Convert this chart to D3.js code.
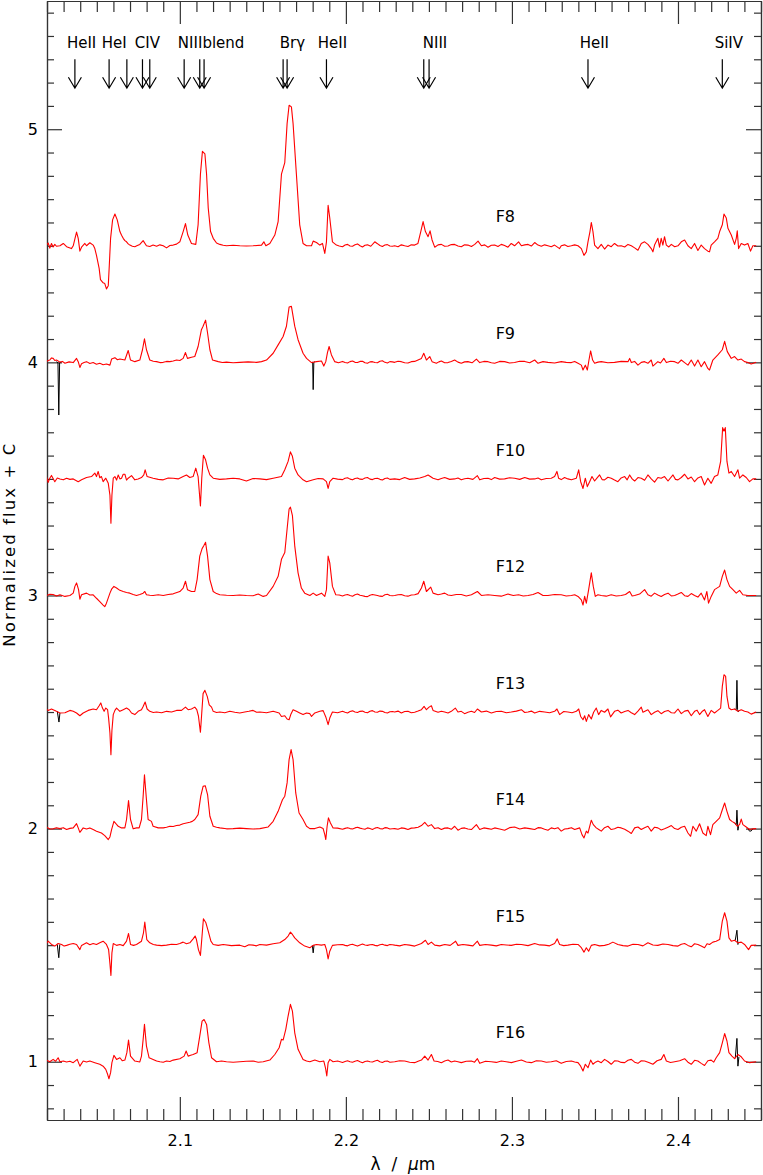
<!DOCTYPE html>
<meta charset="utf-8">
<script src="https://d3js.org/d3.v7.min.js"></script>
<style>
  body { margin: 0; background: #fff; }
  text { font-family: "DejaVu Sans", sans-serif; fill: #000; }
</style>
<div id="chart"></div>
<script>

// spectra: [wavelength (micron), normalized flux]
var F8 = [[2.0197,1.003],[2.0207,1.012],[2.0217,0.990],[2.0227,1.010],[2.0237,0.995],[2.0247,1.006],[2.0257,0.998],[2.0278,1.000],[2.0298,1.010],[2.0318,0.996],[2.0347,0.988],[2.0358,1.000],
  [2.0368,1.030],[2.0378,1.059],[2.0388,1.032],[2.0398,0.977],[2.0408,0.994],[2.0428,1.010],[2.0438,1.000],[2.0458,1.013],[2.0478,1.003],[2.0488,0.988],
  [2.0498,0.959],[2.0514,0.903],[2.0522,0.855],[2.0538,0.841],[2.0548,0.838],[2.0558,0.815],[2.0569,0.829],[2.0575,0.913],[2.0583,1.032],[2.0595,1.111],[2.0609,1.136],[2.0623,1.111],[2.0639,1.061],[2.0649,1.045],[2.0659,1.032],[2.0669,1.022],[2.0679,1.017],[2.0689,1.008],[2.0699,1.003],[2.0714,0.998],[2.0729,0.996],[2.0744,1.001],[2.0759,1.006],[2.0779,1.022],[2.0799,1.000],[2.0819,0.997],[2.0839,1.003],[2.0860,0.998],[2.0880,1.004],[2.0900,1.000],[2.0920,0.991],[2.0940,1.001],[2.0960,1.003],[2.0980,1.007],[2.1000,1.017],[2.1020,1.061],[2.1034,1.095],[2.1048,1.046],[2.1070,1.010],[2.1096,1.006],
  [2.1110,1.090],[2.1124,1.307],[2.1136,1.405],[2.1151,1.394],[2.1161,1.307],[2.1171,1.162],[2.1185,1.061],[2.1201,1.032],[2.1221,1.012],[2.1241,1.006],[2.1261,1.002],[2.1281,1.000],[2.1321,1.002],[2.1361,1.000],[2.1401,0.999],[2.1441,1.000],[2.1492,1.003],[2.1506,1.017],[2.1518,1.000],[2.1542,1.010],[2.1572,1.046],[2.1592,1.104],[2.1612,1.307],[2.1632,1.357],[2.1646,1.524],[2.1658,1.603],[2.1672,1.596],[2.1682,1.524],[2.1702,1.307],[2.1722,1.090],[2.1742,1.010],[2.1763,1.000],[2.1793,1.000],[2.1803,1.020],[2.1823,1.014],[2.1843,1.003],[2.1859,1.010],[2.1873,0.967],[2.1883,1.017],[2.1893,1.174],[2.1903,1.119],[2.1919,1.017],[2.1943,1.003],
  [2.1960,0.999],[2.1980,0.996],[2.1995,1.003],[2.2010,1.006],[2.2025,0.999],[2.2040,0.998],[2.2055,1.004],[2.2070,1.008],[2.2085,1.000],[2.2100,0.995],[2.2115,1.002],[2.2130,1.004],[2.2150,0.998],[2.2174,1.017],[2.2190,1.009],[2.2205,1.001],[2.2220,0.997],[2.2235,1.003],[2.2250,1.005],[2.2265,0.999],[2.2280,0.998],
  [2.2294,1.000],[2.2314,0.996],[2.2334,1.004],[2.2354,1.000],[2.2374,0.997],[2.2394,1.004],[2.2414,1.003],[2.2434,1.010],[2.2451,1.061],[2.2465,1.104],[2.2479,1.061],[2.2495,1.039],[2.2507,1.064],[2.2519,1.025],[2.2535,0.994],[2.2555,1.004],[2.2575,1.006],[2.2595,0.998],[2.2615,0.999],[2.2635,1.005],[2.2655,1.006],[2.2675,0.999],[2.2695,0.996],[2.2715,1.004],[2.2735,1.003],[2.2756,0.997],[2.2776,1.006],[2.2796,1.020],[2.2816,1.000],[2.2836,1.004],[2.2856,0.994],[2.2876,1.002],[2.2896,1.003],[2.2916,0.997],[2.2936,1.006],[2.2956,1.001],[2.2976,0.994],[2.2996,1.010],[2.3016,1.000],[2.3040,1.017],[2.3057,1.000],[2.3077,1.004],[2.3097,1.006],[2.3117,0.999],[2.3137,1.014],[2.3157,1.003],[2.3177,0.998],[2.3197,1.004],[2.3217,1.000],[2.3237,0.996],[2.3257,1.003],[2.3287,0.988],[2.3297,1.000],[2.3317,1.004],[2.3337,0.997],[2.3358,1.000],[2.3378,1.004],[2.3398,1.000],[2.3418,0.988],[2.3434,0.959],[2.3448,0.974],[2.3458,1.017],[2.3470,1.061],[2.3478,1.100],[2.3488,1.061],[2.3498,1.003],[2.3518,0.988],[2.3538,1.006],[2.3558,0.986],[2.3578,1.003],[2.3598,0.996],[2.3618,1.010],[2.3638,0.999],[2.3658,1.000],[2.3679,0.995],[2.3699,1.006],[2.3719,1.000],[2.3739,0.991],[2.3759,0.981],[2.3779,1.010],[2.3799,1.017],[2.3819,1.006],[2.3839,0.988],[2.3849,0.974],[2.3859,1.003],[2.3879,1.032],[2.3889,0.994],[2.3899,1.032],[2.3909,1.003],[2.3919,1.039],[2.3930,1.003],[2.3945,0.995],[2.3960,1.006],[2.3980,0.996],[2.4000,1.000],[2.4020,1.017],[2.4040,1.025],[2.4060,1.000],[2.4080,0.988],[2.4100,1.010],[2.4120,0.980],[2.4140,1.003],[2.4160,0.988],[2.4180,0.977],[2.4190,0.974],[2.4200,1.003],[2.4220,1.017],[2.4240,1.032],[2.4251,1.061],[2.4267,1.090],[2.4277,1.136],[2.4291,1.119],[2.4301,1.075],[2.4321,1.046],[2.4341,1.006],[2.4351,1.032],[2.4357,1.064],[2.4365,0.988],[2.4381,1.010],[2.4401,1.003],[2.4421,1.010],[2.4437,0.977],[2.4451,1.000],[2.4471,1.000]];

var F9 = [[2.0197,1.003],[2.0207,1.008],[2.0217,1.010],[2.0227,1.019],[2.0237,1.017],[2.0247,1.008],[2.0257,1.010],[2.0278,1.001],[2.0293,1.004],[2.0308,0.996],[2.0333,1.002],[2.0358,0.999],[2.0378,1.017],[2.0388,1.003],[2.0398,0.978],[2.0408,0.994],[2.0423,0.999],[2.0438,1.003],[2.0458,0.995],[2.0478,0.999],[2.0498,0.992],[2.0518,0.996],[2.0538,0.990],[2.0558,0.993],[2.0579,0.988],[2.0589,1.014],[2.0609,1.020],[2.0624,1.011],[2.0639,1.014],[2.0669,1.010],[2.0689,1.051],[2.0703,1.010],[2.0729,1.003],[2.0759,1.010],[2.0775,1.054],[2.0787,1.101],[2.0799,1.054],[2.0819,1.010],[2.0840,1.005],[2.0860,1.003],[2.0880,0.999],[2.0900,1.000],[2.0920,1.004],[2.0940,1.003],[2.0960,1.006],[2.0980,1.010],[2.1000,1.008],[2.1020,1.017],[2.1034,1.042],[2.1046,1.017],[2.1070,1.022],[2.1090,1.025],[2.1110,1.068],[2.1130,1.140],[2.1140,1.155],[2.1155,1.181],[2.1167,1.126],[2.1181,1.054],[2.1197,1.010],[2.1231,1.003],[2.1256,0.999],[2.1281,1.001],[2.1321,0.998],[2.1361,1.000],[2.1411,1.002],[2.1462,1.000],[2.1492,1.003],[2.1522,1.010],[2.1562,1.039],[2.1592,1.075],[2.1622,1.111],[2.1642,1.155],[2.1658,1.237],[2.1672,1.240],[2.1692,1.155],[2.1712,1.097],[2.1742,1.039],[2.1763,1.017],[2.1793,0.999],[2.1823,1.003],[2.1853,1.006],[2.1867,0.984],[2.1879,1.003],[2.1889,1.042],[2.1899,1.068],[2.1913,1.032],[2.1933,1.003],
  [2.1955,0.998],[2.1980,1.004],[2.1995,0.999],[2.2010,0.997],[2.2025,1.003],[2.2040,1.006],[2.2055,1.000],[2.2070,0.999],[2.2085,1.004],[2.2100,1.005],[2.2115,0.998],[2.2130,0.996],[2.2145,1.002],[2.2160,1.003],[2.2175,0.999],[2.2190,0.998],[2.2205,1.005],[2.2220,1.007],[2.2235,1.000],[2.2250,0.997],[2.2265,1.003],[2.2280,1.002],
  [2.2294,1.000],[2.2314,1.005],[2.2334,1.003],[2.2354,0.998],[2.2374,0.997],[2.2394,1.003],[2.2414,1.004],[2.2455,1.017],[2.2469,1.039],[2.2485,1.010],[2.2505,1.025],[2.2519,1.003],[2.2545,0.996],[2.2560,1.002],[2.2575,1.006],[2.2595,0.998],[2.2615,0.999],[2.2635,1.004],[2.2655,1.010],[2.2675,1.001],[2.2695,0.996],[2.2715,1.002],[2.2735,1.003],[2.2760,0.998],[2.2786,1.014],[2.2806,0.999],[2.2831,1.004],[2.2856,1.003],[2.2876,0.998],[2.2896,0.996],[2.2926,1.004],[2.2956,1.003],[2.2986,0.997],[2.3016,0.999],[2.3047,1.005],[2.3077,1.004],[2.3107,0.998],[2.3137,1.010],[2.3157,0.996],[2.3187,1.003],[2.3217,1.000],[2.3257,0.997],[2.3297,1.003],[2.3327,1.000],[2.3358,0.999],[2.3378,1.004],[2.3398,0.996],[2.3418,0.988],[2.3428,0.967],[2.3442,0.988],[2.3454,0.967],[2.3464,1.010],[2.3474,1.049],[2.3486,1.010],[2.3498,0.996],[2.3518,1.001],[2.3538,1.003],[2.3578,0.998],[2.3618,1.000],[2.3658,1.004],[2.3699,1.003],[2.3709,1.017],[2.3719,0.999],[2.3739,1.004],[2.3759,0.988],[2.3779,1.000],[2.3799,1.003],[2.3819,0.996],[2.3839,1.010],[2.3849,0.984],[2.3879,1.003],[2.3895,0.997],[2.3915,1.017],[2.3930,0.999],[2.3955,1.005],[2.3980,1.003],[2.4000,0.996],[2.4020,1.010],[2.4040,0.999],[2.4060,0.988],[2.4080,1.010],[2.4100,0.984],[2.4120,1.010],[2.4140,0.981],[2.4160,1.003],[2.4180,0.974],[2.4190,0.967],[2.4210,1.010],[2.4240,1.032],[2.4267,1.054],[2.4281,1.090],[2.4297,1.046],[2.4321,1.017],[2.4341,1.025],[2.4361,1.010],[2.4381,1.014],[2.4401,1.003],[2.4421,0.999],[2.4441,0.993],[2.4471,1.000]];

var F10 = [[2.0197,1.010],[2.0207,0.985],[2.0217,1.003],[2.0227,1.015],[2.0247,0.988],[2.0262,1.004],[2.0278,1.000],[2.0298,0.996],[2.0318,1.003],[2.0338,0.998],[2.0358,1.000],[2.0388,0.988],[2.0408,0.996],[2.0438,1.006],[2.0468,1.010],[2.0488,1.025],[2.0498,1.010],[2.0508,1.032],[2.0518,1.005],[2.0528,1.010],[2.0538,0.988],[2.0554,1.003],[2.0569,0.981],[2.0579,0.930],[2.0585,0.810],[2.0591,0.930],[2.0599,1.003],[2.0609,1.010],[2.0619,0.995],[2.0629,1.017],[2.0639,1.000],[2.0649,1.003],[2.0659,1.020],[2.0669,1.020],[2.0679,0.995],[2.0689,1.003],[2.0709,1.014],[2.0729,0.996],[2.0749,1.000],[2.0769,1.006],[2.0783,1.017],[2.0791,1.039],[2.0803,1.010],[2.0839,1.003],[2.0870,0.998],[2.0900,0.996],[2.0930,1.004],[2.0960,1.003],[2.0990,1.000],[2.1020,1.010],[2.1040,1.017],[2.1060,1.006],[2.1080,1.010],[2.1096,1.046],[2.1110,1.010],[2.1124,0.884],[2.1132,1.003],[2.1142,1.101],[2.1155,1.082],[2.1167,1.046],[2.1181,1.017],[2.1201,1.003],[2.1241,0.998],[2.1281,1.000],[2.1321,1.003],[2.1361,1.000],[2.1401,0.991],[2.1441,1.002],[2.1482,1.000],[2.1522,0.997],[2.1562,1.003],[2.1612,1.010],[2.1632,1.039],[2.1652,1.075],[2.1666,1.116],[2.1678,1.097],[2.1692,1.046],[2.1712,1.017],[2.1742,0.996],[2.1763,0.988],[2.1803,0.996],[2.1833,1.002],[2.1863,1.000],[2.1883,0.988],[2.1893,0.959],[2.1903,0.988],[2.1923,1.003],
  [2.1950,0.999],[2.1980,0.997],[2.1995,1.003],[2.2010,1.005],[2.2025,0.999],[2.2040,0.996],[2.2055,1.002],[2.2070,1.004],[2.2085,0.999],[2.2100,0.998],[2.2115,1.004],[2.2130,1.006],[2.2145,0.999],[2.2160,0.997],[2.2175,1.002],[2.2190,1.003],[2.2205,0.998],[2.2220,0.995],[2.2235,1.002],[2.2250,1.004],[2.2265,0.998],[2.2280,0.999],
  [2.2294,1.000],[2.2324,0.997],[2.2354,1.006],[2.2384,0.998],[2.2414,1.000],[2.2445,1.004],[2.2475,1.010],[2.2495,1.017],[2.2525,1.003],[2.2555,0.996],[2.2575,1.002],[2.2595,1.006],[2.2625,0.998],[2.2655,1.000],[2.2675,1.004],[2.2695,0.996],[2.2715,1.001],[2.2735,1.003],[2.2765,0.998],[2.2792,1.014],[2.2806,0.996],[2.2831,1.002],[2.2856,1.003],[2.2876,0.997],[2.2896,1.006],[2.2926,0.999],[2.2956,1.000],[2.2986,1.005],[2.3016,1.003],[2.3047,0.998],[2.3077,1.006],[2.3107,0.999],[2.3137,1.000],[2.3157,1.004],[2.3177,0.996],[2.3207,1.002],[2.3237,1.003],[2.3257,1.010],[2.3271,1.032],[2.3281,1.003],[2.3297,0.997],[2.3317,1.006],[2.3337,1.000],[2.3358,0.996],[2.3388,1.003],[2.3402,1.039],[2.3414,0.988],[2.3428,0.959],[2.3442,1.003],[2.3454,0.967],[2.3468,0.988],[2.3482,1.010],[2.3498,0.991],[2.3513,1.004],[2.3528,1.017],[2.3543,0.997],[2.3558,0.996],[2.3578,1.007],[2.3598,1.003],[2.3618,0.995],[2.3638,0.988],[2.3658,1.004],[2.3679,1.010],[2.3694,0.996],[2.3709,1.017],[2.3724,1.000],[2.3739,0.991],[2.3759,1.006],[2.3779,1.003],[2.3799,0.994],[2.3819,1.017],[2.3839,1.000],[2.3859,0.986],[2.3879,1.006],[2.3899,1.003],[2.3919,1.010],[2.3940,0.991],[2.3970,1.017],[2.3985,0.998],[2.4000,0.996],[2.4020,1.006],[2.4040,1.020],[2.4060,1.000],[2.4080,1.008],[2.4100,0.988],[2.4120,1.004],[2.4140,1.010],[2.4160,0.974],[2.4180,1.003],[2.4200,0.981],[2.4220,1.010],[2.4240,1.017],[2.4257,1.075],[2.4269,1.220],[2.4277,1.205],[2.4285,1.220],[2.4295,1.075],[2.4307,1.025],[2.4321,1.032],[2.4341,1.010],[2.4361,1.039],[2.4371,1.003],[2.4391,1.017],[2.4411,1.006],[2.4431,0.988],[2.4451,1.000],[2.4471,1.000]];

var F12 = [[2.0197,1.000],[2.0217,1.005],[2.0237,1.004],[2.0257,0.998],[2.0278,1.003],[2.0308,0.996],[2.0338,1.000],[2.0358,1.010],[2.0368,1.039],[2.0378,1.054],[2.0390,1.025],[2.0398,0.984],[2.0408,1.003],[2.0438,1.010],[2.0458,1.002],[2.0478,1.003],[2.0498,0.988],[2.0518,0.974],[2.0538,0.959],[2.0548,0.952],[2.0558,0.967],[2.0579,1.010],[2.0589,1.027],[2.0603,1.039],[2.0619,1.032],[2.0639,1.022],[2.0659,1.017],[2.0679,1.013],[2.0699,1.010],[2.0719,1.004],[2.0739,1.000],[2.0759,1.004],[2.0779,1.010],[2.0789,1.017],[2.0799,1.003],[2.0819,1.001],[2.0839,1.000],[2.0870,1.003],[2.0900,1.000],[2.0930,1.004],[2.0960,1.007],[2.1000,1.017],[2.1020,1.032],[2.1034,1.061],[2.1046,1.025],[2.1070,1.017],[2.1090,1.017],[2.1104,1.068],[2.1120,1.169],[2.1134,1.201],[2.1144,1.213],[2.1155,1.228],[2.1167,1.169],[2.1181,1.068],[2.1201,1.017],[2.1221,1.008],[2.1241,1.003],[2.1281,1.001],[2.1321,1.000],[2.1361,1.002],[2.1401,1.000],[2.1441,0.999],[2.1472,1.006],[2.1502,0.996],[2.1522,1.000],[2.1562,1.039],[2.1592,1.082],[2.1612,1.155],[2.1632,1.184],[2.1646,1.285],[2.1658,1.371],[2.1666,1.379],[2.1678,1.343],[2.1692,1.213],[2.1712,1.097],[2.1732,1.032],[2.1752,1.010],[2.1783,1.000],[2.1803,1.010],[2.1823,1.000],[2.1853,1.010],[2.1873,0.996],[2.1883,1.025],[2.1893,1.169],[2.1903,1.140],[2.1919,1.039],[2.1939,1.003],
  [2.1960,1.002],[2.1980,0.998],[2.1995,1.002],[2.2010,1.004],[2.2025,1.000],[2.2040,0.997],[2.2055,1.003],[2.2070,1.006],[2.2085,1.001],[2.2100,0.999],[2.2115,0.996],[2.2130,0.995],[2.2145,1.001],[2.2160,1.004],[2.2175,1.002],[2.2190,1.000],[2.2205,0.997],[2.2220,0.996],[2.2235,1.003],[2.2250,1.005],[2.2265,1.000],[2.2280,0.999],
  [2.2294,1.000],[2.2314,1.003],[2.2334,1.004],[2.2354,0.999],[2.2374,0.997],[2.2394,1.002],[2.2414,1.003],[2.2435,1.008],[2.2455,1.032],[2.2469,1.061],[2.2485,1.017],[2.2511,1.036],[2.2525,1.010],[2.2555,1.003],[2.2575,1.006],[2.2595,1.010],[2.2615,1.002],[2.2635,1.000],[2.2665,1.004],[2.2695,1.004],[2.2725,0.998],[2.2756,1.003],[2.2792,1.017],[2.2816,1.000],[2.2856,1.003],[2.2896,1.000],[2.2936,0.997],[2.2976,1.006],[2.3008,1.000],[2.3040,1.003],[2.3068,0.998],[2.3097,1.000],[2.3127,1.004],[2.3157,1.013],[2.3187,1.000],[2.3217,1.000],[2.3257,1.004],[2.3297,1.003],[2.3327,0.998],[2.3358,1.000],[2.3378,1.003],[2.3398,0.996],[2.3418,0.981],[2.3428,0.959],[2.3438,0.996],[2.3448,0.967],[2.3462,1.025],[2.3478,1.097],[2.3490,1.039],[2.3502,0.996],[2.3518,1.003],[2.3538,1.000],[2.3568,0.997],[2.3598,1.003],[2.3628,0.998],[2.3658,1.000],[2.3684,1.004],[2.3709,1.017],[2.3724,0.998],[2.3739,1.000],[2.3769,1.006],[2.3799,1.025],[2.3819,1.003],[2.3839,0.997],[2.3859,1.010],[2.3879,1.002],[2.3899,0.996],[2.3919,1.004],[2.3940,1.010],[2.3960,0.998],[2.3980,1.000],[2.4000,1.006],[2.4020,1.013],[2.4040,0.999],[2.4060,0.996],[2.4080,1.008],[2.4100,1.000],[2.4120,0.993],[2.4140,1.010],[2.4160,0.981],[2.4174,1.017],[2.4184,0.967],[2.4200,0.996],[2.4220,1.025],[2.4251,1.039],[2.4267,1.082],[2.4281,1.109],[2.4295,1.068],[2.4311,1.039],[2.4331,1.025],[2.4351,1.010],[2.4371,1.022],[2.4391,1.003],[2.4421,1.000],[2.4471,1.000]];

var F13 = [[2.0197,1.013],[2.0207,1.007],[2.0227,1.013],[2.0247,1.007],[2.0257,1.003],[2.0278,0.996],[2.0308,0.997],[2.0338,1.007],[2.0358,1.003],[2.0378,0.996],[2.0398,0.984],[2.0418,0.996],[2.0448,1.007],[2.0478,1.013],[2.0498,1.010],[2.0514,1.027],[2.0524,1.039],[2.0534,1.017],[2.0544,1.003],[2.0554,1.017],[2.0565,1.010],[2.0571,0.974],[2.0579,0.910],[2.0585,0.817],[2.0591,0.921],[2.0599,0.989],[2.0609,1.007],[2.0619,1.017],[2.0639,1.003],[2.0659,1.010],[2.0679,1.017],[2.0695,1.010],[2.0709,0.996],[2.0729,0.989],[2.0749,1.003],[2.0769,1.010],[2.0779,1.024],[2.0791,1.043],[2.0803,1.013],[2.0819,1.003],[2.0840,0.998],[2.0860,1.000],[2.0890,0.997],[2.0920,1.003],[2.0950,1.000],[2.0980,1.007],[2.1010,1.007],[2.1034,1.021],[2.1050,1.010],[2.1070,1.013],[2.1090,1.021],[2.1102,1.010],[2.1112,0.983],[2.1124,0.913],[2.1132,0.996],[2.1140,1.079],[2.1151,1.093],[2.1165,1.067],[2.1177,1.031],[2.1191,1.021],[2.1201,1.003],[2.1221,0.998],[2.1241,1.000],[2.1271,0.997],[2.1301,1.003],[2.1331,0.999],[2.1361,0.996],[2.1391,1.000],[2.1416,1.003],[2.1441,1.007],[2.1462,0.999],[2.1482,1.000],[2.1522,0.997],[2.1562,1.003],[2.1598,0.996],[2.1612,0.981],[2.1632,0.984],[2.1646,0.970],[2.1658,0.967],[2.1668,0.989],[2.1682,1.010],[2.1702,1.003],[2.1722,0.996],[2.1742,0.989],[2.1763,0.996],[2.1783,0.993],[2.1793,0.981],[2.1813,0.996],[2.1843,1.003],[2.1863,1.006],[2.1879,0.979],[2.1893,0.946],[2.1903,0.974],[2.1919,1.000],
  [2.1950,0.997],[2.1980,1.003],[2.1995,0.999],[2.2010,0.996],[2.2025,1.002],[2.2040,1.005],[2.2055,1.000],[2.2070,0.998],[2.2085,1.003],[2.2100,1.004],[2.2115,0.999],[2.2130,0.997],[2.2145,1.003],[2.2160,1.006],[2.2175,1.000],[2.2190,0.999],[2.2205,1.004],[2.2220,1.003],[2.2235,0.998],[2.2250,0.996],[2.2265,1.001],[2.2280,1.002],
  [2.2294,1.000],[2.2314,1.004],[2.2334,0.996],[2.2354,1.002],[2.2374,1.003],[2.2394,0.997],[2.2414,0.999],[2.2435,1.004],[2.2455,1.010],[2.2471,1.024],[2.2485,1.010],[2.2501,1.021],[2.2515,1.027],[2.2525,1.007],[2.2555,0.999],[2.2575,1.003],[2.2595,1.000],[2.2615,0.996],[2.2635,1.003],[2.2659,1.017],[2.2675,1.000],[2.2695,1.003],[2.2715,0.993],[2.2735,0.999],[2.2756,1.003],[2.2775,0.998],[2.2792,1.013],[2.2816,1.000],[2.2846,1.004],[2.2876,0.996],[2.2906,1.002],[2.2936,1.003],[2.2966,0.997],[2.2996,1.000],[2.3027,1.004],[2.3057,1.010],[2.3077,0.998],[2.3097,1.000],[2.3117,1.004],[2.3137,0.996],[2.3167,1.003],[2.3197,1.000],[2.3227,0.997],[2.3257,1.003],[2.3271,1.013],[2.3287,0.989],[2.3312,1.002],[2.3337,1.000],[2.3362,0.997],[2.3388,1.003],[2.3402,1.013],[2.3414,0.981],[2.3428,0.967],[2.3438,0.984],[2.3448,0.960],[2.3462,0.989],[2.3478,0.970],[2.3492,0.999],[2.3508,1.017],[2.3522,0.989],[2.3538,1.007],[2.3558,0.999],[2.3578,1.013],[2.3594,0.979],[2.3618,1.003],[2.3638,1.008],[2.3658,0.996],[2.3679,1.002],[2.3699,1.007],[2.3719,0.997],[2.3739,0.989],[2.3759,1.004],[2.3779,1.021],[2.3789,0.999],[2.3819,1.010],[2.3839,0.989],[2.3859,0.999],[2.3879,1.006],[2.3899,0.993],[2.3919,1.002],[2.3940,1.007],[2.3960,0.997],[2.3980,0.996],[2.4000,1.013],[2.4020,0.993],[2.4040,1.004],[2.4060,1.007],[2.4080,0.984],[2.4100,1.003],[2.4115,1.008],[2.4130,0.989],[2.4145,1.002],[2.4160,1.010],[2.4180,0.981],[2.4200,1.007],[2.4220,0.996],[2.4240,1.007],[2.4257,1.017],[2.4267,1.110],[2.4277,1.160],[2.4287,1.153],[2.4295,1.067],[2.4307,1.017],[2.4321,1.010],[2.4341,1.013],[2.4361,1.003],[2.4381,1.010],[2.4401,1.003],[2.4421,1.000],[2.4441,0.991],[2.4471,1.000]];

var F14 = [[2.0197,1.007],[2.0217,0.998],[2.0237,0.999],[2.0257,1.004],[2.0278,1.000],[2.0298,1.004],[2.0318,0.996],[2.0338,1.001],[2.0358,1.003],[2.0378,1.021],[2.0388,1.003],[2.0398,0.984],[2.0418,1.003],[2.0438,0.998],[2.0458,1.003],[2.0478,0.996],[2.0498,0.989],[2.0528,0.981],[2.0548,0.970],[2.0569,0.953],[2.0579,0.964],[2.0589,0.996],[2.0603,1.031],[2.0615,1.021],[2.0629,1.010],[2.0649,1.003],[2.0669,1.003],[2.0679,1.039],[2.0691,1.120],[2.0703,1.039],[2.0719,0.999],[2.0739,1.003],[2.0755,1.003],[2.0769,1.039],[2.0779,1.139],[2.0787,1.231],[2.0799,1.124],[2.0809,1.039],[2.0829,1.031],[2.0839,1.010],[2.0870,1.003],[2.0900,1.003],[2.0920,1.006],[2.0940,1.010],[2.0960,1.009],[2.0980,1.013],[2.1000,1.015],[2.1020,1.021],[2.1040,1.024],[2.1060,1.027],[2.1075,1.031],[2.1090,1.039],[2.1110,1.060],[2.1126,1.139],[2.1140,1.181],[2.1153,1.184],[2.1167,1.146],[2.1181,1.053],[2.1201,1.010],[2.1221,1.006],[2.1241,1.003],[2.1281,0.999],[2.1321,1.000],[2.1361,1.002],[2.1401,1.000],[2.1441,0.998],[2.1482,1.000],[2.1532,1.007],[2.1562,1.031],[2.1592,1.074],[2.1618,1.124],[2.1632,1.139],[2.1646,1.196],[2.1658,1.296],[2.1670,1.339],[2.1682,1.296],[2.1698,1.153],[2.1718,1.067],[2.1742,1.039],[2.1763,1.010],[2.1783,1.000],[2.1813,1.000],[2.1843,1.007],[2.1863,1.000],[2.1873,0.974],[2.1879,0.953],[2.1887,1.010],[2.1895,1.046],[2.1907,1.024],[2.1923,1.003],
  [2.1950,1.002],[2.1980,0.997],[2.1995,1.001],[2.2010,1.004],[2.2025,1.000],[2.2040,0.998],[2.2055,1.003],[2.2070,1.006],[2.2085,1.002],[2.2100,0.999],[2.2115,0.997],[2.2130,1.003],[2.2145,1.000],[2.2160,0.996],[2.2175,1.002],[2.2190,1.005],[2.2205,1.000],[2.2220,0.998],[2.2235,1.004],[2.2250,1.003],[2.2265,0.998],[2.2280,0.999],
  [2.2294,1.000],[2.2314,0.997],[2.2334,1.003],[2.2354,1.001],[2.2374,0.996],[2.2394,1.002],[2.2414,1.003],[2.2435,1.006],[2.2455,1.013],[2.2475,1.027],[2.2495,1.010],[2.2515,1.017],[2.2535,1.000],[2.2555,1.004],[2.2575,0.996],[2.2595,1.002],[2.2615,1.003],[2.2635,0.997],[2.2655,1.010],[2.2675,0.993],[2.2695,1.001],[2.2715,1.003],[2.2735,0.998],[2.2756,0.996],[2.2786,1.017],[2.2806,0.996],[2.2831,1.003],[2.2856,1.000],[2.2876,0.997],[2.2896,1.003],[2.2926,0.998],[2.2956,0.993],[2.2986,1.004],[2.3016,1.007],[2.3047,0.998],[2.3077,1.003],[2.3107,1.000],[2.3137,0.996],[2.3157,1.004],[2.3177,1.003],[2.3197,0.997],[2.3217,0.993],[2.3237,1.003],[2.3257,0.999],[2.3277,1.004],[2.3297,0.989],[2.3317,0.998],[2.3337,1.000],[2.3358,1.004],[2.3378,0.996],[2.3408,1.003],[2.3422,0.974],[2.3434,0.960],[2.3448,0.989],[2.3458,0.981],[2.3478,1.036],[2.3490,1.017],[2.3508,1.003],[2.3523,0.996],[2.3538,0.989],[2.3558,1.004],[2.3578,1.010],[2.3598,0.996],[2.3618,0.999],[2.3638,1.006],[2.3658,1.003],[2.3679,0.997],[2.3699,0.989],[2.3719,0.979],[2.3739,1.003],[2.3759,1.007],[2.3779,0.996],[2.3799,1.004],[2.3819,1.010],[2.3839,0.989],[2.3859,1.006],[2.3879,1.003],[2.3899,0.994],[2.3919,0.999],[2.3940,1.006],[2.3960,1.013],[2.3980,1.000],[2.4000,0.996],[2.4020,1.006],[2.4040,1.010],[2.4060,0.981],[2.4076,0.967],[2.4090,1.010],[2.4110,0.989],[2.4130,1.021],[2.4150,0.981],[2.4170,0.970],[2.4180,1.010],[2.4196,0.974],[2.4210,1.017],[2.4230,1.031],[2.4251,1.046],[2.4267,1.081],[2.4281,1.110],[2.4295,1.074],[2.4311,1.039],[2.4325,1.031],[2.4341,1.024],[2.4357,1.010],[2.4371,1.017],[2.4381,1.041],[2.4391,1.017],[2.4411,1.007],[2.4431,0.996],[2.4451,0.999],[2.4471,1.000]];

var F15 = [[2.0197,1.007],[2.0207,1.017],[2.0227,1.003],[2.0247,0.996],[2.0267,1.007],[2.0288,1.003],[2.0303,0.996],[2.0318,0.999],[2.0338,1.004],[2.0358,1.007],[2.0378,1.003],[2.0398,0.981],[2.0408,0.999],[2.0438,1.010],[2.0458,1.002],[2.0478,1.007],[2.0498,1.003],[2.0518,1.010],[2.0538,1.017],[2.0558,1.003],[2.0571,0.981],[2.0579,0.921],[2.0585,0.870],[2.0591,0.967],[2.0599,1.007],[2.0619,0.999],[2.0639,1.003],[2.0659,0.998],[2.0679,1.017],[2.0691,1.050],[2.0703,1.003],[2.0721,0.999],[2.0739,1.003],[2.0769,1.017],[2.0781,1.053],[2.0789,1.099],[2.0801,1.024],[2.0819,1.010],[2.0840,1.003],[2.0860,1.000],[2.0890,0.998],[2.0920,1.000],[2.0950,1.004],[2.0980,1.003],[2.1000,1.007],[2.1020,1.013],[2.1040,1.006],[2.1060,1.010],[2.1080,1.027],[2.1092,1.039],[2.1100,1.024],[2.1112,0.981],[2.1124,0.956],[2.1132,1.024],[2.1142,1.113],[2.1157,1.096],[2.1171,1.060],[2.1187,1.017],[2.1201,1.003],[2.1231,0.999],[2.1261,1.003],[2.1311,0.998],[2.1361,1.000],[2.1391,0.993],[2.1416,1.002],[2.1441,1.000],[2.1462,0.997],[2.1482,1.003],[2.1522,1.000],[2.1562,1.006],[2.1602,1.010],[2.1632,1.024],[2.1652,1.039],[2.1666,1.056],[2.1678,1.046],[2.1692,1.031],[2.1722,1.010],[2.1752,0.996],[2.1783,0.989],[2.1803,0.999],[2.1823,1.003],[2.1853,1.000],[2.1873,1.003],[2.1883,0.981],[2.1893,0.941],[2.1903,0.974],[2.1919,0.999],
  [2.1950,1.002],[2.1980,1.003],[2.1995,0.999],[2.2010,0.997],[2.2025,1.002],[2.2040,1.004],[2.2055,1.000],[2.2070,0.996],[2.2085,1.001],[2.2100,1.005],[2.2115,1.001],[2.2130,0.999],[2.2145,1.002],[2.2160,1.003],[2.2175,0.999],[2.2190,0.997],[2.2205,1.002],[2.2220,1.004],[2.2235,1.000],[2.2250,0.998],[2.2265,1.003],[2.2280,1.002],
  [2.2294,1.000],[2.2324,0.997],[2.2354,1.003],[2.2384,1.000],[2.2414,0.996],[2.2435,1.002],[2.2455,1.007],[2.2479,1.021],[2.2495,1.003],[2.2515,1.013],[2.2535,1.000],[2.2565,0.997],[2.2595,1.003],[2.2628,0.999],[2.2661,1.017],[2.2675,0.999],[2.2705,1.003],[2.2735,1.000],[2.2765,0.997],[2.2792,1.017],[2.2806,0.999],[2.2841,1.003],[2.2876,1.000],[2.2906,0.997],[2.2936,1.003],[2.2966,1.001],[2.2996,0.999],[2.3027,1.004],[2.3057,1.003],[2.3097,0.998],[2.3137,1.007],[2.3167,1.001],[2.3197,1.000],[2.3227,0.997],[2.3257,1.007],[2.3273,1.027],[2.3287,1.003],[2.3312,0.998],[2.3337,1.000],[2.3368,1.004],[2.3398,1.003],[2.3418,0.989],[2.3434,0.970],[2.3448,0.989],[2.3462,0.974],[2.3478,0.999],[2.3498,1.003],[2.3528,0.997],[2.3558,0.999],[2.3583,1.004],[2.3608,1.013],[2.3638,1.003],[2.3669,0.998],[2.3699,0.996],[2.3729,1.004],[2.3759,1.003],[2.3789,0.997],[2.3819,1.010],[2.3849,1.001],[2.3879,0.999],[2.3909,1.005],[2.3940,1.003],[2.3970,0.998],[2.4000,0.996],[2.4020,1.004],[2.4040,1.007],[2.4060,0.999],[2.4080,0.993],[2.4100,1.006],[2.4120,1.003],[2.4140,0.996],[2.4160,0.989],[2.4175,1.006],[2.4190,1.003],[2.4210,1.013],[2.4230,1.017],[2.4251,1.024],[2.4267,1.103],[2.4281,1.139],[2.4295,1.103],[2.4307,1.031],[2.4321,1.017],[2.4341,1.021],[2.4361,1.010],[2.4381,1.013],[2.4401,1.003],[2.4425,0.981],[2.4441,0.999],[2.4471,1.000]];

var F16 = [[2.0197,1.007],[2.0217,1.000],[2.0237,1.010],[2.0252,1.002],[2.0267,1.017],[2.0278,1.000],[2.0298,1.003],[2.0318,0.999],[2.0338,1.002],[2.0358,0.996],[2.0382,1.010],[2.0398,0.981],[2.0418,1.003],[2.0438,0.999],[2.0458,1.003],[2.0488,0.996],[2.0518,0.989],[2.0538,0.981],[2.0554,0.967],[2.0565,0.946],[2.0573,0.927],[2.0583,0.953],[2.0591,0.996],[2.0603,1.027],[2.0619,1.010],[2.0639,1.017],[2.0654,1.004],[2.0669,1.007],[2.0681,1.039],[2.0691,1.093],[2.0703,1.024],[2.0729,1.003],[2.0759,0.999],[2.0769,1.024],[2.0779,1.096],[2.0787,1.160],[2.0799,1.067],[2.0815,1.017],[2.0839,1.010],[2.0860,1.003],[2.0880,1.000],[2.0900,0.998],[2.0920,1.003],[2.0940,1.001],[2.0960,1.007],[2.1000,1.013],[2.1026,1.024],[2.1038,1.046],[2.1050,1.024],[2.1065,1.028],[2.1080,1.031],[2.1104,1.039],[2.1120,1.110],[2.1134,1.174],[2.1146,1.181],[2.1161,1.160],[2.1175,1.081],[2.1191,1.017],[2.1221,1.000],[2.1251,1.003],[2.1281,1.000],[2.1321,0.998],[2.1361,1.000],[2.1401,1.002],[2.1441,1.003],[2.1472,0.998],[2.1502,1.000],[2.1542,1.007],[2.1572,1.031],[2.1598,1.060],[2.1612,1.096],[2.1622,1.093],[2.1638,1.139],[2.1652,1.196],[2.1666,1.246],[2.1678,1.217],[2.1692,1.124],[2.1712,1.053],[2.1742,1.010],[2.1763,1.003],[2.1783,1.000],[2.1813,1.007],[2.1843,1.000],[2.1867,1.003],[2.1877,0.974],[2.1885,0.939],[2.1893,0.996],[2.1903,1.010],[2.1923,1.000],
  [2.1950,1.003],[2.1980,0.997],[2.1995,1.001],[2.2010,1.004],[2.2025,1.000],[2.2040,0.998],[2.2055,1.002],[2.2070,1.005],[2.2085,1.000],[2.2100,0.996],[2.2115,1.001],[2.2130,1.003],[2.2145,1.000],[2.2160,0.999],[2.2175,1.003],[2.2190,1.006],[2.2205,1.000],[2.2220,0.997],[2.2235,1.002],[2.2250,1.003],[2.2265,0.998],[2.2280,0.999],
  [2.2294,1.000],[2.2324,1.004],[2.2354,1.003],[2.2384,0.998],[2.2414,0.996],[2.2435,1.002],[2.2455,1.007],[2.2475,1.024],[2.2495,1.007],[2.2515,1.031],[2.2531,1.003],[2.2553,1.001],[2.2575,0.996],[2.2595,1.003],[2.2615,1.007],[2.2635,0.999],[2.2655,1.003],[2.2675,1.000],[2.2695,0.996],[2.2725,1.002],[2.2756,1.003],[2.2775,0.998],[2.2792,1.013],[2.2806,0.993],[2.2841,1.002],[2.2876,1.000],[2.2906,0.997],[2.2936,1.003],[2.2966,1.000],[2.2996,0.996],[2.3027,1.002],[2.3057,1.007],[2.3087,0.999],[2.3117,0.996],[2.3147,1.004],[2.3177,1.003],[2.3207,0.998],[2.3237,1.000],[2.3267,1.004],[2.3297,0.993],[2.3327,1.001],[2.3358,1.003],[2.3378,0.999],[2.3398,0.996],[2.3414,0.981],[2.3428,0.960],[2.3442,0.989],[2.3458,0.974],[2.3474,1.007],[2.3488,0.989],[2.3503,0.998],[2.3518,1.003],[2.3538,0.996],[2.3558,1.010],[2.3578,1.001],[2.3598,0.989],[2.3618,1.004],[2.3638,1.003],[2.3658,0.997],[2.3679,0.996],[2.3699,1.006],[2.3719,1.010],[2.3739,0.998],[2.3759,0.993],[2.3779,1.004],[2.3799,1.003],[2.3824,0.997],[2.3849,0.989],[2.3874,1.004],[2.3899,1.010],[2.3915,1.031],[2.3930,1.003],[2.3955,0.997],[2.3980,1.000],[2.4010,1.004],[2.4040,1.013],[2.4060,0.998],[2.4080,0.989],[2.4100,1.006],[2.4120,1.003],[2.4140,0.993],[2.4160,0.984],[2.4180,1.004],[2.4200,1.007],[2.4215,0.998],[2.4230,1.017],[2.4251,1.039],[2.4267,1.081],[2.4281,1.121],[2.4295,1.089],[2.4307,1.039],[2.4325,1.024],[2.4341,1.013],[2.4361,1.031],[2.4381,1.021],[2.4401,1.003],[2.4431,0.996],[2.4471,1.000]];

var spectra = [F8, F9, F10, F12, F13, F14, F15, F16];
var names = ["F8", "F9", "F10", "F12", "F13", "F14", "F15", "F16"];
var offsets = [3.5, 3.0, 2.5, 2.0, 1.5, 1.0, 0.5, 0.0];

// uncorrected spectrum, only where it differs from the red one
var rawF9 = [[[2.0257,1.003],[2.0266,0.998],[2.0271,0.774],[2.0276,0.998],[2.0285,1.001]],
             [[2.1793,0.999],[2.1800,1.000],[2.1803,0.883],[2.1807,1.000],[2.1813,1.003]]];
var rawF13 = [[[2.0262,1.003],[2.0272,0.957],[2.0278,0.996]],
              [[2.4341,1.013],[2.4351,1.010],[2.4355,1.136],[2.4359,1.010],[2.4365,1.000]]];
var rawF14 = [[[2.4341,1.024],[2.4351,1.017],[2.4355,1.079],[2.4361,0.993],[2.4365,1.010]],
              [[2.4421,1.000],[2.4431,0.989],[2.4441,0.990],[2.4451,0.999]]];
var rawF15 = [[[2.0262,1.003],[2.0271,0.946],[2.0277,1.003]],
              [[2.1798,0.999],[2.1803,0.967],[2.1808,0.999]],
              [[2.4345,1.021],[2.4355,1.064],[2.4361,1.003],[2.4365,1.007]]];
var rawF16 = [[[2.4345,1.015],[2.4355,1.100],[2.4361,0.981],[2.4367,1.020]]];
var rawSpectra = [null, rawF9, null, null, rawF13, rawF14, rawF15, rawF16];

// line identifications
var arrowWaves = [2.0368, 2.0574, 2.0681, 2.0775, 2.0819, 2.1026, 2.1120, 2.1146, 2.1622, 2.1646, 2.1883, 2.2469, 2.2501, 2.3458, 2.4267];
var idLabels = ["HeII", "HeI", "CIV", "NIII", "blend", "Br\u03b3", "HeII", "NIII", "HeII", "SiIV"];
var idLabelWaves = [2.0320, 2.0530, 2.0729, 2.0988, 2.1136, 2.1602, 2.1831, 2.2463, 2.3408, 2.4221];

var xMajor = [2.1, 2.2, 2.3, 2.4];
var yMajor = [1, 2, 3, 4, 5];

var width = 763, height = 1175;
var svg = d3.select("#chart").append("svg")
  .attr("width", width)
  .attr("height", height);

var x = d3.scaleLinear().domain([2.02, 2.45]).range([47, 761]);
var y = d3.scaleLinear().domain([0.75, 5.55]).range([1120, 1]);

var xMinor = d3.range(2.02, 2.4501, 0.01).map(function(d) { return +d.toFixed(2); })
  .filter(function(d) { return xMajor.indexOf(d) < 0; });
var yMinor = d3.range(0.8, 5.5501, 0.1).map(function(d) { return +d.toFixed(1); })
  .filter(function(d) { return yMajor.indexOf(d) < 0; });

var axisColor = "#333";

function styleAxis(g) {
  g.selectAll("path, line").attr("stroke", axisColor).attr("stroke-width", 1.2);
  g.selectAll("text").attr("font-size", 16).attr("fill", "#000")
    .style("font-family", "'DejaVu Sans', sans-serif");
}

// bottom
svg.append("g").attr("transform", "translate(0," + y.range()[0] + ")")
  .call(d3.axisBottom(x).tickValues(xMinor).tickSize(-11).tickSizeOuter(0).tickFormat(""))
  .call(styleAxis);
svg.append("g").attr("transform", "translate(0," + y.range()[0] + ")")
  .call(d3.axisBottom(x).tickValues(xMajor).tickSize(-23).tickSizeOuter(0).tickPadding(15).tickFormat(d3.format(".1f")))
  .call(styleAxis);
// top
svg.append("g").attr("transform", "translate(0," + y.range()[1] + ")")
  .call(d3.axisTop(x).tickValues(xMinor).tickSize(-11).tickSizeOuter(0).tickFormat(""))
  .call(styleAxis);
svg.append("g").attr("transform", "translate(0," + y.range()[1] + ")")
  .call(d3.axisTop(x).tickValues(xMajor).tickSize(-23).tickSizeOuter(0).tickFormat(""))
  .call(styleAxis);
// left
svg.append("g").attr("transform", "translate(" + x.range()[0] + ",0)")
  .call(d3.axisLeft(y).tickValues(yMinor).tickSize(-7).tickSizeOuter(0).tickFormat(""))
  .call(styleAxis);
svg.append("g").attr("transform", "translate(" + x.range()[0] + ",0)")
  .call(d3.axisLeft(y).tickValues(yMajor).tickSize(-15).tickSizeOuter(0).tickPadding(9).tickFormat(d3.format("d")))
  .call(styleAxis);
// right
svg.append("g").attr("transform", "translate(" + x.range()[1] + ",0)")
  .call(d3.axisRight(y).tickValues(yMinor).tickSize(-7).tickSizeOuter(0).tickFormat(""))
  .call(styleAxis);
svg.append("g").attr("transform", "translate(" + x.range()[1] + ",0)")
  .call(d3.axisRight(y).tickValues(yMajor).tickSize(-15).tickSizeOuter(0).tickFormat(""))
  .call(styleAxis);

// axis titles
svg.append("text")
  .attr("x", 403)
  .attr("y", 1170)
  .attr("text-anchor", "middle")
  .attr("font-size", 17)
  .attr("xml:space", "preserve")
  .html("\u03bb  /  <tspan font-style='italic'>\u03bc</tspan>m");

svg.append("text")
  .attr("transform", "translate(15," + y(3.22) + ") rotate(-90)")
  .attr("text-anchor", "middle")
  .attr("font-size", 16.5)
  .attr("letter-spacing", 2.1)
  .text("Normalized flux + C");

svg.append("clipPath").attr("id", "clip")
  .append("rect")
  .attr("x", x.range()[0]).attr("y", y.range()[1])
  .attr("width", x.range()[1] - x.range()[0])
  .attr("height", y.range()[0] - y.range()[1]);

var plot = svg.append("g").attr("clip-path", "url(#clip)");

// black raw spectra under the red ones
rawSpectra.forEach(function(segs, i) {
  if (!segs) return;
  segs.forEach(function(seg) {
    plot.append("path")
      .datum(seg)
      .attr("fill", "none")
      .attr("stroke", "#000")
      .attr("stroke-width", 1)
      .attr("d", d3.line()
        .x(function(d) { return x(d[0]); })
        .y(function(d) { return y(d[1] + offsets[i]); }));
  });
});

spectra.forEach(function(s, i) {
  plot.append("path")
    .datum(s)
    .attr("fill", "none")
    .attr("stroke", "#ff0000")
    .attr("stroke-width", 1.1)
    .attr("stroke-linejoin", "round")
    .attr("d", d3.line()
      .x(function(d) { return x(d[0]); })
      .y(function(d) { return y(d[1] + offsets[i]); }));

  svg.append("text")
    .attr("x", x(2.2902))
    .attr("y", y(1.1 + offsets[i]))
    .attr("font-size", 16)
    .text(names[i]);
});

// arrows marking the lines
var arrowTop = y(5.30), arrowTip = y(5.176);
svg.selectAll(".arrow")
  .data(arrowWaves)
  .enter()
  .append("path")
  .attr("class", "arrow")
  .attr("fill", "none")
  .attr("stroke", "#000")
  .attr("stroke-width", 1.2)
  .attr("d", function(d) {
    var px = x(d);
    return "M" + px + "," + arrowTop + "L" + px + "," + arrowTip +
      "M" + (px - 6.5) + "," + (arrowTip - 11) + "L" + px + "," + arrowTip + "L" + (px + 6.5) + "," + (arrowTip - 11);
  });

svg.selectAll(".idlabel")
  .data(idLabels)
  .enter()
  .append("text")
  .attr("class", "idlabel")
  .attr("x", function(d, i) { return x(idLabelWaves[i]); })
  .attr("y", y(5.348))
  .attr("font-size", 15)
  .text(function(d) { return d; });

</script>
